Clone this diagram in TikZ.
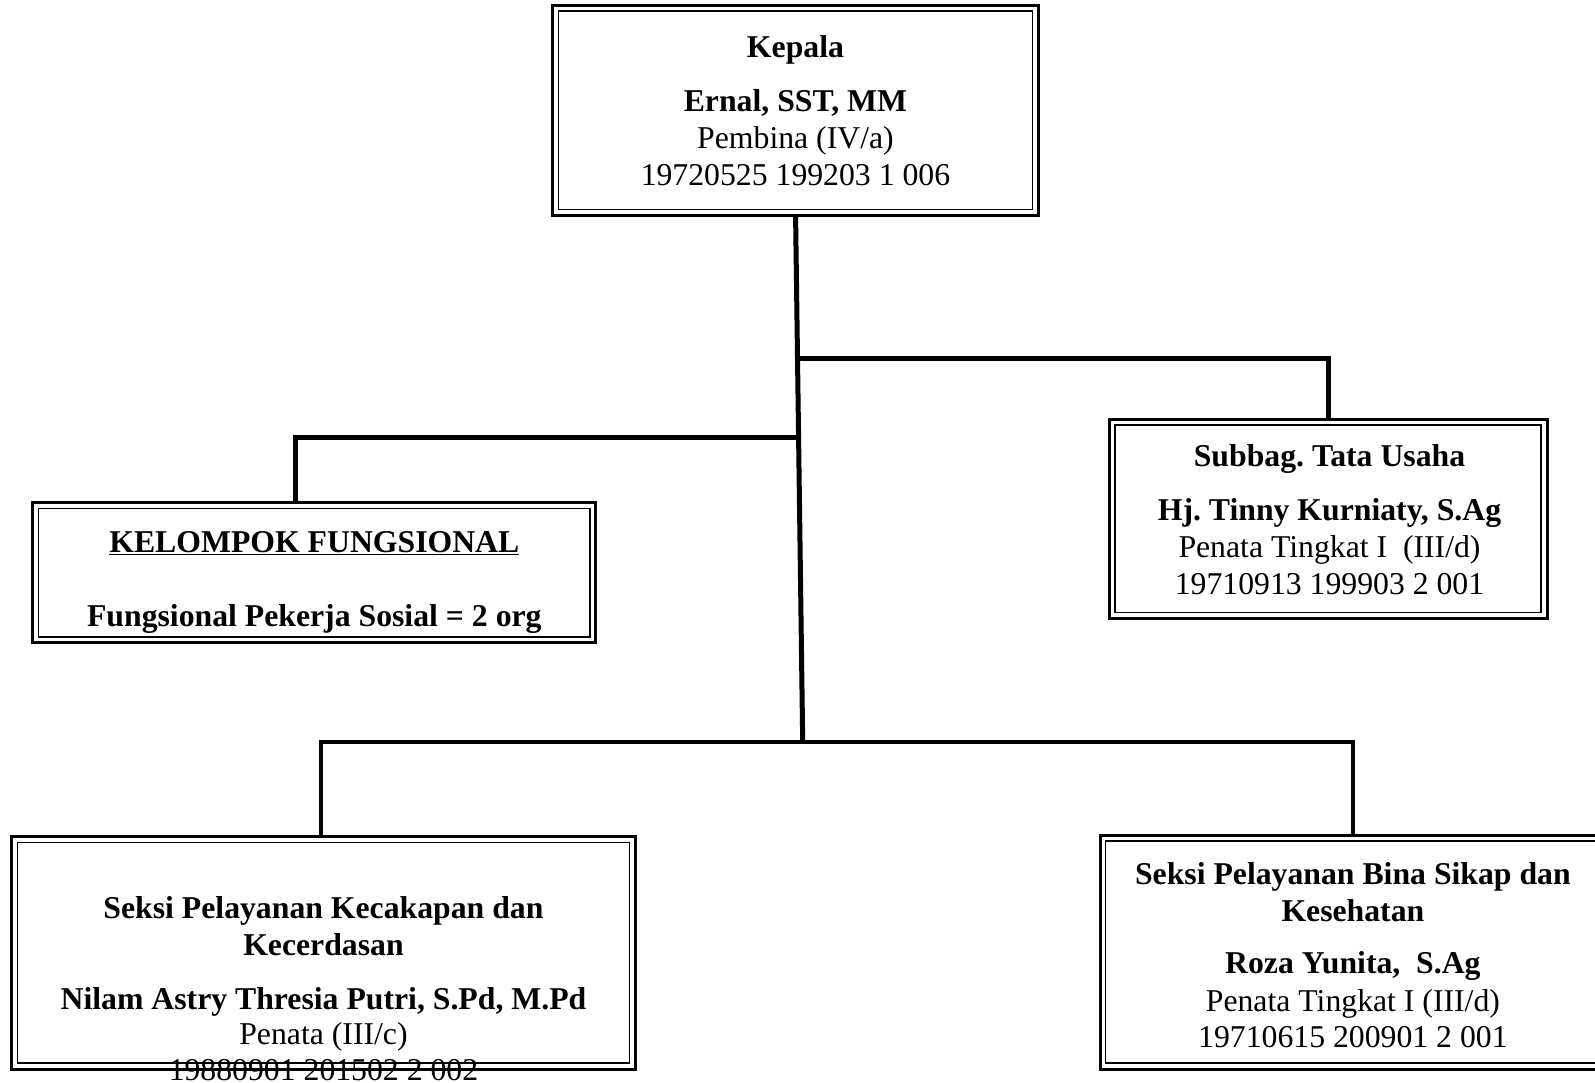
\documentclass[tikz,border=0pt]{standalone}
\usepackage{fontspec}
\setmainfont{Liberation Serif}
\frenchspacing
\begin{document}
\begin{tikzpicture}[x=1pt,y=-1pt,scale=1.0172,every node/.append style={transform shape},
  ibox/.style={draw, line width=1.5pt, inner sep=0pt},
  obox/.style={line width=3pt},
  conn/.style={line width=5pt, line join=miter},
  connb/.style={line width=4pt, line join=miter},
  txt/.style={font=\fontsize{31.2}{36}\selectfont, inner sep=0pt, anchor=base},
  btxt/.style={txt, font=\fontsize{31.2}{36}\selectfont\bfseries}]
\useasboundingbox (0,0) rectangle (1568,1063.7);
\clip (0,0) rectangle (1568,1063.7);
% boxes (inner rectangles)
\node[ibox, minimum width=466pt, minimum height=195pt] (kepala) at (782,108.5) {};
\node[ibox, minimum width=419pt, minimum height=184pt] (subbag) at (1305.5,510) {};
\node[ibox, minimum width=542pt, minimum height=126pt] (kelompok) at (309,563) {};
\node[ibox, minimum width=602pt, minimum height=217pt] (bl) at (318,936.5) {};
\node[ibox, minimum width=528pt, minimum height=218pt] (br) at (1351,936) {};
% outer rectangles
\foreach \b in {kepala,subbag,kelompok,bl,br}{
  \draw[obox] ([shift={(-5pt,5pt)}]\b.north west) rectangle ([shift={(5pt,-5pt)}]\b.south east);
}
% junctions
\coordinate (jr) at (784.6,352);
\coordinate (jl) at (786,430);
\coordinate (jb) at (789,729);
% connectors
\draw[conn] ([yshift=-5pt]kepala.south) -- (jb);
\draw[conn] (jr) -| ([yshift=5pt]subbag.north);
\draw[conn] (jl) -| ([xshift=-19pt,yshift=5pt]kelompok.north);
\draw[connb] ([xshift=-2pt,yshift=5pt]bl.north) |- (jb) -| ([xshift=-21pt,yshift=5pt]br.north);
% texts: Kepala
\node[btxt] (k1) at (782,57) {Kepala};
\node[btxt] (k2) at (782,110) {Ernal, SST, MM};
\node[txt] (k3) at (782,146) {Pembina (IV/a)};
\node[txt] (k4) at (782,182) {19720525 199203 1 006};
% Subbag
\node[btxt] (s1) at (1307,459) {Subbag. Tata Usaha};
\node[btxt] (s2) at (1307,512) {Hj. Tinny Kurniaty, S.Ag};
\node[txt] (s3) at (1307,548) {Penata Tingkat I\ \ (III/d)};
\node[txt] (s4) at (1307,584) {19710913 199903 2 001};
% Kelompok
\node[btxt] (f1) at (309,543) {\underline{KELOMPOK FUNGSIONAL}};
\node[btxt] (f2) at (309,616) {Fungsional Pekerja Sosial = 2 org};
% Bottom left
\node[btxt] (l1) at (318,903) {Seksi Pelayanan Kecakapan dan};
\node[btxt] (l2) at (318,939) {Kecerdasan};
\node[btxt] (l3) at (318,992) {Nilam Astry Thresia Putri, S.Pd, M.Pd};
\node[txt] (l4) at (318,1027) {Penata (III/c)};
\node[txt] (l5) at (318,1062) {19880901 201502 2 002};
% Bottom right
\node[btxt] (r1) at (1330,870) {Seksi Pelayanan Bina Sikap dan};
\node[btxt] (r2) at (1330,906) {Kesehatan};
\node[btxt] (r3) at (1330,957) {Roza Yunita,\ \ S.Ag};
\node[txt] (r4) at (1330,994) {Penata Tingkat I (III/d)};
\node[txt] (r5) at (1330,1030) {19710615 200901 2 001};
\end{tikzpicture}
\end{document}
